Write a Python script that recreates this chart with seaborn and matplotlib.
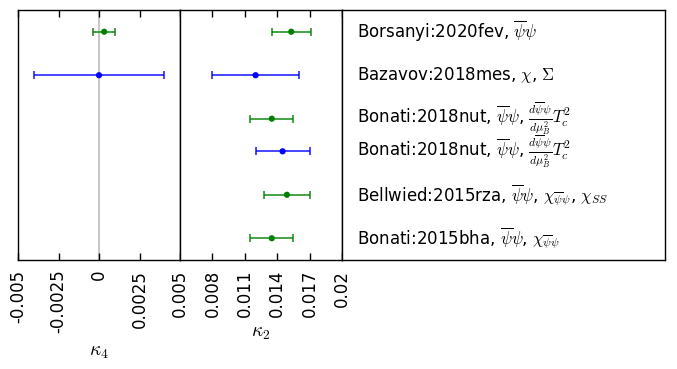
import numpy as np
import pandas as pd
import matplotlib
matplotlib.use("Agg")
import matplotlib.pyplot as plt
import seaborn as sns

# data, top row first
refs = ["Borsanyi:2020fev, $\\overline{\\psi}\\psi$",
        "Bazavov:2018mes, $\\chi$, $\\Sigma$",
        "Bonati:2018nut, $\\overline{\\psi}\\psi$, $\\frac{d\\overline{\\psi}\\psi}{d\\mu_B^2}T_c^2$",
        "Bonati:2018nut, $\\overline{\\psi}\\psi$, $\\frac{d\\overline{\\psi}\\psi}{d\\mu_B^2}T_c^2$",
        "Bellwied:2015rza, $\\overline{\\psi}\\psi$, $\\chi_{\\overline{\\psi}\\psi}$, $\\chi_{SS}$",
        "Bonati:2015bha, $\\overline{\\psi}\\psi$, $\\chi_{\\overline{\\psi}\\psi}$"]
row_pos = [4.75, 3.75, 2.75, 2.0, 1.0, 0.0]
colors = ["green", "blue", "green", "blue", "green", "green"]

kappa2 = [0.0153, 0.012, 0.0135, 0.0145, 0.0149, 0.0135]
kappa2_err = [0.0018, 0.004, 0.0020, 0.0025, 0.0021, 0.0020]
kappa4 = [0.00032, 0.0, np.nan, np.nan, np.nan, np.nan]
kappa4_err = [0.00067, 0.004, np.nan, np.nan, np.nan, np.nan]

k4_ticks = [-0.005, -0.0025, 0, 0.0025, 0.005]
k4_labels = ["-0.005", "-0.0025", "0", "0.0025", "0.005"]
k2_ticks = [0.008, 0.011, 0.014, 0.017, 0.02]
k2_labels = ["0.008", "0.011", "0.014", "0.017", "0.02"]

df = pd.DataFrame({"ref": refs, "y": row_pos, "color": colors,
                   "k2": kappa2, "k2err": kappa2_err,
                   "k4": kappa4, "k4err": kappa4_err})
pal = {"green": "#008000", "blue": "#0000ff"}

sns.set_theme(style="ticks", color_codes=False, rc={
    "xtick.direction": "in", "xtick.top": True, "xtick.bottom": True,
    "xtick.major.size": 5, "xtick.major.width": 1, "xtick.color": "black",
    "ytick.left": False, "ytick.right": False,
})
plt.rcParams["font.family"] = ["DejaVu Sans"]
plt.rcParams["mathtext.fontset"] = "cm"
plt.rcParams["font.size"] = 12
plt.rcParams["text.color"] = "black"
plt.rcParams["axes.labelcolor"] = "black"

fig = plt.figure(figsize=(6.77, 3.69), dpi=100)
W, H = 677, 369
bottom = 1 - 260 / H
height = 250 / H
ax1 = fig.add_axes([18 / W, bottom, 162 / W, height])
ax2 = fig.add_axes([180 / W, bottom, 162 / W, height])
ax3 = fig.add_axes([342 / W, bottom, 323 / W, height])

ax1.axvline(0, color="#c8c8c8", lw=1.5, zorder=0)

for ax, col, err in [(ax1, "k4", "k4err"), (ax2, "k2", "k2err")]:
    sub = df.dropna(subset=[col])
    for _, r in sub.iterrows():
        ax.errorbar(r[col], r["y"], xerr=r[err], fmt="none", ecolor=pal[r["color"]],
                    elinewidth=1.2, capsize=3, capthick=1.2, alpha=0.85)
    sns.scatterplot(data=sub, x=col, y="y", hue="color", palette=pal,
                    s=20, edgecolor="none", legend=False, ax=ax, zorder=3)

for ax in (ax1, ax2, ax3):
    ax.set_ylim(-0.5, 5.25)
    ax.set_yticks([])
    ax.set_ylabel("")
    for sp in ax.spines.values():
        sp.set_visible(True)
        sp.set_color("black")
        sp.set_linewidth(1)

ax1.set_xlim(-0.005, 0.005)
ax1.set_xticks(k4_ticks)
ax1.set_xticklabels(k4_labels, rotation=90, fontsize=12)
ax1.set_xlabel("$\\kappa_4$", fontsize=14, labelpad=6)

ax2.set_xlim(0.005, 0.02)
ax2.set_xticks(k2_ticks)
ax2.set_xticklabels(k2_labels, rotation=90, fontsize=12)
ax2.set_xlabel("$\\kappa_2$", fontsize=14, labelpad=4)

for ax in (ax1, ax2):
    ax.tick_params(axis="x", which="major", direction="in", top=True, bottom=True,
                   length=5, width=1, color="black", pad=7)

ax3.set_xlim(0, 1)
ax3.set_xticks([])
ax3.tick_params(axis="x", top=False, bottom=False)
for _, r in df.iterrows():
    ax3.text(0.046, r["y"], r["ref"], va="center", ha="left", fontsize=12)

fig.savefig("out.png", dpi=100)
